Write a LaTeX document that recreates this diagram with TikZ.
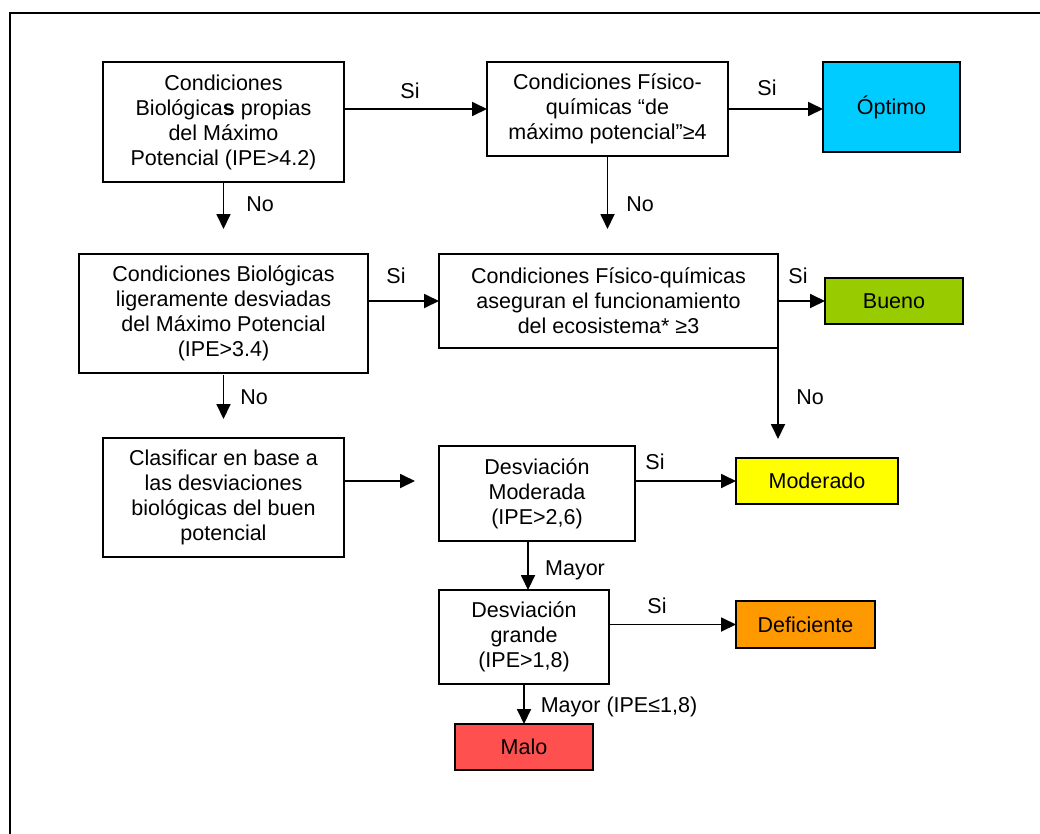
\documentclass[tikz,border=0pt]{standalone}
\usepackage{fontspec}
\setmainfont{Liberation Sans}
\usetikzlibrary{arrows.meta,calc}
\definecolor{cOpt}{HTML}{00CCFF}
\definecolor{cBueno}{HTML}{99CC00}
\definecolor{cMod}{HTML}{FFFF00}
\definecolor{cDef}{HTML}{FF9900}
\definecolor{cMalo}{HTML}{FF5050}
\begin{document}
\begin{tikzpicture}[x=1pt,y=-1pt,
  box/.style 2 args={draw=black, line width=1.8pt, align=center, inner sep=0pt, outer sep=0pt,
    font=\fontsize{21.5}{25}\selectfont, minimum width=#1pt, minimum height=#2pt},
  lbl/.style={font=\fontsize{21.5}{25}\selectfont, inner sep=0pt},
  arr/.style={line width=1.8pt, -{Triangle[length=15pt,width=14pt]}}]
\useasboundingbox (0,0) rectangle (1040,833);
\fill[white] (0,0) rectangle (1040,833);
\draw[line width=2pt] (10,840) -- (10,13) -- (1045,13);

\node[box={241}{120}] (b1) at (223.5,122) {Condiciones\\Biológica\textbf{s} propias\\del Máximo\\Potencial (IPE>4.2)};
\node[box={241}{94}] (p1) at (607.5,109) {Condiciones Físico-\\químicas “de\\máximo potencial”≥4};
\node[box={137}{90}, fill=cOpt] (opt) at (891.5,107) {Óptimo};
\node[box={289}{119}] (b2) at (223.5,313.5) {Condiciones Biológicas\\ligeramente desviadas\\del Máximo Potencial\\(IPE>3.4)};
\node[box={339}{94}] (p2) at (608.5,301) {Condiciones Físico-químicas\\aseguran el funcionamiento\\del ecosistema* ≥3};
\node[box={138}{46}, fill=cBueno] (bueno) at (894,301) {Bueno};
\node[box={241}{119}] (b3) at (223.5,497.5) {Clasificar en base a\\las desviaciones\\biológicas del buen\\potencial};
\node[box={196}{95}] (dm) at (537,493.5) {Desviación\\Moderada\\(IPE>2,6)};
\node[box={162}{46}, fill=cMod] (mod) at (817,481) {Moderado};
\node[box={170}{94}] (dg) at (524,637) {Desviación\\grande\\(IPE>1,8)};
\node[box={139}{47}, fill=cDef] (def) at (805.5,624.5) {Deficiente};
\node[box={138}{46}, fill=cMalo] (malo) at (524,747) {Malo};

\draw[arr] (b1.east |- p1.west) -- (p1.west);
\draw[arr] (p1.east) -- (opt.west |- p1.east);
\draw[arr, shorten >=25pt] (b1.south) -- (b1.south |- b2.north);
\draw[arr, shorten >=25pt] (p1.south) -- (p1.south |- p2.north);
\draw[arr] (b2.east |- p2.west) -- (p2.west);
\draw[arr] (p2.east) -- (bueno.west);
\draw[arr, shorten <=2pt, shorten >=19pt] (b2.south) -- (b2.south |- b3.north);
\draw[arr, shorten >=19pt] (p2.south east) -- (p2.south east |- mod.north);
\draw[arr, shorten >=24pt] (b3.east |- mod.west) -- (dm.west |- mod.west);
\draw[arr] (dm.east |- mod.west) -- (mod.west);
\draw[arr] ([xshift=-9pt]dm.south) -- ([xshift=-9pt]dm.south |- dg.north);
\draw[arr] (dg.east |- def.west) -- (def.west);
\draw[arr] (dg.south) -- (malo.north);

\node[lbl] (l1) at (410,91) {Si};
\node[lbl] (l2) at (767,88) {Si};
\node[lbl] (l3) at (260,204) {No};
\node[lbl] (l4) at (640,204) {No};
\node[lbl] (l5) at (396,276) {Si};
\node[lbl] (l6) at (798,276) {Si};
\node[lbl] (l7) at (254,397) {No};
\node[lbl] (l8) at (810,397) {No};
\node[lbl] (l9) at (655,462) {Si};
\node[lbl] (l10) at (575,570) {Mayor};
\node[lbl] (l11) at (657,606) {Si};
\node[lbl] (l12) at (619,707) {Mayor (IPE≤1,8)};
\end{tikzpicture}
\end{document}
